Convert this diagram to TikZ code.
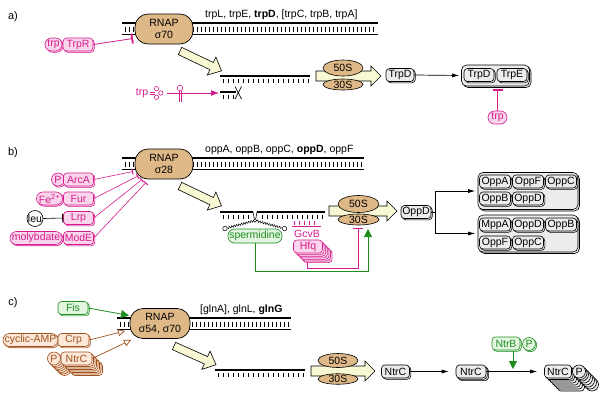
\documentclass[tikz,border=0pt]{standalone}
\usepackage{fontspec}
\setmainfont{Liberation Sans}
\usetikzlibrary{arrows.meta,decorations.pathmorphing,shapes.geometric,shapes.misc}
\definecolor{mag}{RGB}{214,28,140}
\definecolor{magfill}{RGB}{250,214,236}
\definecolor{grn}{RGB}{30,140,30}
\definecolor{grnfill}{RGB}{226,246,226}
\definecolor{brn}{RGB}{160,82,30}
\definecolor{brnfill}{RGB}{252,232,216}
\definecolor{rnapc}{RGB}{222,184,135}
\definecolor{yel}{RGB}{248,248,212}
\definecolor{boxgray}{RGB}{236,236,236}
\newcommand\fnt{\fontsize{10.5}{12}\selectfont}
\newcommand\dnads[3]{%
  \draw[line width=1.6pt] (#1,#3) -- (#2,#3) (#1,#3+11.5) -- (#2,#3+11.5);
  \pgfmathsetmacro\xa{#1+3}\pgfmathsetmacro\xb{#1+7}\pgfmathsetmacro\xe{#2-2}%
  \foreach \xx in {\xa,\xb,...,\xe} \draw[line width=0.6pt] (\xx,#3+3.5) -- (\xx,#3+9);}
\newcommand\mrnastr[3]{%
  \draw[line width=1.6pt] (#1,#3) -- (#2,#3);
  \pgfmathsetmacro\xa{#1+3}\pgfmathsetmacro\xb{#1+8}\pgfmathsetmacro\xe{#2-2}%
  \foreach \xx in {\xa,\xb,...,\xe} \draw[line width=0.6pt] (\xx,#3+3) -- (\xx,#3+7);}
\newcommand\yarrow[7]{%
  \begin{scope}[shift={(#1,#2)},rotate=#3]
    \draw[fill=yel,line width=0.6pt] (0,-#5) -- (#4-#7,-#5) -- (#4-#7,-#6) -- (#4,0) -- (#4-#7,#6) -- (#4-#7,#5) -- (0,#5) -- cycle;
  \end{scope}}
\begin{document}
\begin{tikzpicture}[x=1pt,y=-1pt,
  base/.style={font=\fnt,inner sep=1pt,minimum height=13pt,rounded corners=3.5pt,line width=0.6pt},
  kb/.style={base,draw=black,fill=boxgray,text=black},
  mb/.style={base,draw=mag,fill=magfill,text=mag},
  gb/.style={base,draw=grn,fill=grnfill,text=grn},
  bb/.style={base,draw=brn,fill=brnfill,text=brn},
  kshad/.style={preaction={draw=black,fill=boxgray,transform canvas={shift={(#1pt,-#1pt)}}}},
  mshad/.style={preaction={draw=mag,fill=magfill,transform canvas={shift={(#1pt,-#1pt)}}}},
  gshad/.style={preaction={draw=grn,fill=grnfill,transform canvas={shift={(#1pt,-#1pt)}}}},
  bshad/.style={preaction={draw=brn,fill=brnfill,transform canvas={shift={(#1pt,-#1pt)}}}},
  kbox/.style={kb,kshad=1.3},
  mbox/.style={mb,mshad=1.3},
  gbox/.style={gb,gshad=1.3},
  bbox/.style={bb,bshad=1.3},
  pillk/.style={rectangle,rounded corners=6.5pt,font=\fnt,inner sep=1pt,minimum height=13pt,line width=0.6pt},
  mpill/.style={pillk,draw=mag,fill=magfill,text=mag},
  gpill/.style={pillk,draw=grn,fill=grnfill,text=grn},
  bpill/.style={pillk,draw=brn,fill=brnfill,text=brn},
  circk/.style={circle,font=\fnt,inner sep=0pt,minimum size=13pt,line width=0.6pt},
  mcirc/.style={circk,draw=mag,fill=magfill,text=mag},
  gcirc/.style={circk,draw=grn,fill=grnfill,text=grn},
  bcirc/.style={circk,draw=brn,fill=brnfill,text=brn},
  kcirc/.style={circk,draw=black,fill=boxgray,text=black},
  rnap/.style={draw,fill=rnapc,rounded corners=13pt,minimum width=58pt,minimum height=30pt,align=center,font=\fnt,inner sep=0pt,line width=0.7pt},
  ribo/.style={ellipse,draw,fill=rnapc,minimum width=40pt,inner sep=0pt,font=\fnt,line width=0.6pt},
  cplx/.style={draw,fill=boxgray,rounded corners=5pt,line width=0.6pt,kshad=1.5},
  lbl/.style={font=\fnt,anchor=base west,inner sep=0pt},
  sec/.style={font=\fontsize{11}{13}\selectfont,inner sep=0pt},
  conn/.style={line width=0.7pt,-{Latex[length=7pt,width=4pt]}},
  minh/.style={draw=mag,line width=0.8pt,-{Bar[width=10pt,line width=1.8pt]}},
  mreg/.style={draw=mag,line width=0.6pt,-{Bar[width=6pt,line width=1pt]}},
  gact/.style={draw=grn,line width=0.8pt,-{Triangle[length=8pt,width=8pt]}},
  bact/.style={draw=brn,line width=0.7pt,-{Triangle[length=7pt,width=7pt,fill=white]}},
  zz/.style={decorate,decoration={zigzag,amplitude=1pt,segment length=2.5pt},line width=0.5pt},
]
\fill[white] (0,0) rectangle (606,400);
\useasboundingbox (0,0) rectangle (606,400);

% ================= a) =================
\node[sec] (la) at (13,17) {a)};
\dnads{122}{378}{23}
\node[rnap] (rnapA) at (164,29) {RNAP\\σ70};
\node[lbl] (genesA) at (205,17) {trpL, trpE, \textbf{trpD}, [trpC, trpB, trpA]};
\node[mpill,mshad=1.2,minimum width=17pt] (trpA) at (53.5,44.5) {trp};
\node[mbox,minimum width=30pt] (trpR) at (78,44.5) {TrpR};
\coordinate (trpRT) at (133,38.5);
\draw[minh] (trpR.east) -- (trpRT);

\yarrow{180}{51}{-25.5}{46}{4}{10}{11}
\mrnastr{220}{310}{76}
\yarrow{316}{76}{0}{65}{5}{10}{10}
\node[ribo,minimum height=11pt] (s30a) at (343,84.5) {30S};
\node[ribo,minimum height=16pt] (s50a) at (343,68) {50S};
\node[kbox,minimum width=28pt] (trpDa) at (400,75) {TrpD};
\node[cplx,minimum width=68pt,minimum height=21pt] (cxA) at (495.5,75.5) {};
\node[kbox,minimum width=30pt] (cxA1) at (479,75) {TrpD};
\node[kbox,minimum width=30pt] (cxA2) at (512,75) {TrpE};
\draw[conn,shorten >=2pt] (trpDa.east) -- (cxA.west);
\node[mpill,minimum width=19pt] (trpI) at (497.5,117.5) {trp};
\draw[minh,shorten >=2.5pt] (trpI.north) -- (trpI.north |- cxA.south);

% attenuation
\node[font=\fnt,text=mag,inner sep=0pt] (trpT) at (142,93) {trp};
\begin{scope}[draw=mag,line width=0.6pt]
  \draw (149.5,92) -- (154.5,92) (149.5,94) -- (154.5,94);
  \draw (156.5,88.7) circle (2.2) (156.5,97.3) circle (2.2) (160.8,93) circle (2.2);
  \draw (179,91) -- (179,102) (181,91) -- (181,102);
  \draw (180,88) circle (2.8);
\end{scope}
\coordinate (attL) at (167,93);
\coordinate (attR) at (219,93);
\draw[draw=mag,line width=0.8pt,-{Latex[length=8pt,width=6pt]}] (attL) -- (attR);
\mrnastr{220}{236}{92}
\draw[line width=0.7pt] (235,86.5) -- (241.5,99) (241.5,86.5) -- (235,99);

% ================= b) =================
\node[sec] (lb) at (13,153) {b)};
\dnads{122}{364}{158}
\node[rnap] (rnapB) at (164,164) {RNAP\\σ28};
\node[lbl] (genesB) at (205,152) {oppA, oppB, oppC, \textbf{oppD}, oppF};
\node[mcirc,mshad=1.2] (pB) at (58,179.5) {P};
\node[mbox,minimum width=30pt] (arcA) at (78.5,179.5) {ArcA};
\node[mpill,mshad=1.2,minimum width=26pt] (fe) at (49.5,198.5) {Fe\textsuperscript{2+}};
\node[mbox,minimum width=30pt] (fur) at (78.5,198.5) {Fur};
\node[circk,draw=black,fill=white,minimum size=16pt] (leu) at (35,218.5) {leu};
\node[mbox,minimum width=30pt] (lrp) at (78.5,218) {Lrp};
\node[mpill,mshad=1.2,minimum width=52pt] (moly) at (36,238) {molybdate};
\node[mbox,minimum width=30pt] (modE) at (78.5,238) {ModE};
\draw[line width=0.6pt,-{Bar[width=9pt,line width=1pt]}] (leu.east) -- (lrp.west);
\coordinate (tArc) at (133,171.5);
\coordinate (tFur) at (138,176);
\coordinate (tLrp) at (142,179.5);
\coordinate (tMod) at (146,182.5);
\draw[mreg] (arcA.east) -- (tArc);
\draw[mreg] (fur.east) -- (tFur);
\draw[mreg] (lrp.east) -- (tLrp);
\draw[mreg] (modE.east) -- (tMod);

\yarrow{180}{186}{-25.5}{46}{4}{10}{11}
% mRNA with spermidine kink
\draw[line width=1.6pt] (220,212) -- (253,212) (257,212) -- (325,212);
\foreach \xx in {223,228,...,248} \draw[line width=0.6pt] (\xx,215) -- (\xx,219);
\foreach \xx in {262,267,...,322} \draw[line width=0.6pt] (\xx,215) -- (\xx,219);
\draw[line width=0.6pt] (253,212) -- (254.3,219) (257,212) -- (255.7,219);
\node[circle,draw,fill=white,inner sep=0pt,minimum size=3.6pt,line width=0.5pt] (kink) at (255,220.5) {};
\node[circle,draw,fill=white,inner sep=0pt,minimum size=4.5pt,line width=0.5pt] (sL) at (225,228.5) {};
\node[circle,draw,fill=white,inner sep=0pt,minimum size=4.5pt,line width=0.5pt] (sR) at (284.5,228.5) {};
\draw[zz] (kink) -- (sL);
\draw[zz] (kink) -- (sR);
\node[gpill,minimum width=54pt,minimum height=14pt] (sperm) at (255,236) {spermidine};
% GcvB + Hfq
\foreach \xx in {294,299,...,318} \draw[mag,line width=0.6pt] (\xx,221) -- (\xx,225);
\draw[mag,line width=1.6pt] (292,226.5) -- (321,226.5);
\node[font=\fnt,text=mag,inner sep=0pt] (gcvB) at (307,233.5) {GcvB};
\node[mb,minimum width=29pt,mshad=9.6,mshad=8,mshad=6.4,mshad=4.8,mshad=3.2,mshad=1.6] (hfq) at (308,246.5) {Hfq};

\yarrow{329}{211}{0}{68}{5}{10}{10}
\node[ribo,minimum width=41pt,minimum height=11pt] (s30b) at (358.5,219.5) {30S};
\node[ribo,minimum width=41pt,minimum height=17pt] (s50b) at (358.5,204) {50S};
\coordinate (hfqB) at (307,263);
\coordinate (hfqT) at (358,227.5);
\draw[minh] (hfqB) -- ++(0,5) -| (hfqT);
\coordinate (grT) at (368,229);
\draw[gact] (sperm.south) -- ++(0,28) -| (grT);

\node[kbox,minimum width=30pt] (oppDb) at (416,212) {OppD};
\node[cplx,minimum width=100pt,minimum height=37pt] (cx1) at (528,191) {};
\node[kbox,minimum width=31pt] (c1a) at (495,181.5) {OppA};
\node[kbox,minimum width=31pt] (c1b) at (528,181.5) {OppF};
\node[kbox,minimum width=31pt] (c1c) at (561,181.5) {OppC};
\node[kbox,minimum width=31pt] (c1d) at (495,198.5) {OppB};
\node[kbox,minimum width=31pt] (c1e) at (528,198.5) {OppD};
\node[cplx,minimum width=100pt,minimum height=37pt] (cx2) at (528,233.5) {};
\node[kbox,minimum width=31pt] (c2a) at (495,224.5) {MppA};
\node[kbox,minimum width=31pt] (c2b) at (528,224.5) {OppD};
\node[kbox,minimum width=31pt] (c2c) at (561,224.5) {OppB};
\node[kbox,minimum width=31pt] (c2d) at (495,242.5) {OppF};
\node[kbox,minimum width=31pt] (c2e) at (528,242.5) {OppC};
\coordinate (br) at (435,212);
\draw[line width=0.7pt] (oppDb.east) -- (br);
\draw[conn,shorten >=2.5pt] (br) |- (cx1.west);
\draw[conn,shorten >=2.5pt] (br) |- (cx2.west);

% ================= c) =================
\node[sec] (lc) at (13,303) {c)};
\dnads{117}{291}{318}
\node[rnap,minimum width=60pt] (rnapC) at (160,323.5) {RNAP\\σ54, σ70};
\node[lbl] (genesC) at (200,312) {[glnA], glnL, \textbf{glnG}};
\node[gbox,minimum width=30pt] (fis) at (73,308) {Fis};
\coordinate (fisT) at (129,315.5);
\draw[gact] (fis.east) -- (fisT);
\node[bpill,bshad=1.2,minimum width=55pt] (camp) at (30.5,340) {cyclic-AMP};
\node[bbox,minimum width=31pt] (crp) at (73.5,340) {Crp};
\node[bcirc,bshad=10.5,bshad=9,bshad=7.5,bshad=6,bshad=4.5,bshad=3,bshad=1.5] (pL) at (54,358.5) {P};
\node[bb,minimum width=31pt,bshad=10.5,bshad=9,bshad=7.5,bshad=6,bshad=4.5,bshad=3,bshad=1.5] (ntrcL) at (76.5,358.5) {NtrC};
\coordinate (crpT) at (125,331);
\coordinate (ntrT) at (131,340);
\draw[bact] (crp.east) -- (crpT);
\draw[bact] (ntrcL.east) -- (ntrT);

\yarrow{174}{346}{-24}{46}{4}{10}{11}
\mrnastr{215}{305}{370}
\yarrow{311}{371}{0}{64}{5}{10}{10}
\node[ribo,minimum height=10pt] (s30c) at (338,379) {30S};
\node[ribo,minimum height=14pt] (s50c) at (338,360.5) {50S};
\node[kbox,minimum width=28pt] (ntr1) at (395.5,371.5) {NtrC};
\node[kb,minimum width=30pt,kshad=2.6,kshad=1.3] (ntr2) at (471,371.5) {NtrC};
\node[kb,minimum width=27pt,kshad=13,kshad=11,kshad=9,kshad=7,kshad=5,kshad=3,kshad=1.5] (ntr3) at (558,371.5) {NtrC};
\node[kcirc,kshad=13,kshad=11,kshad=9,kshad=7,kshad=5,kshad=3,kshad=1.5] (pR) at (579,371.5) {P};
\draw[conn,shorten >=7pt] (ntr1.east) -- (ntr2.west);
\draw[conn,shorten >=7pt] (ntr2.east) -- (ntr3.west);
\node[gbox,minimum width=28pt] (ntrb) at (506,343.5) {NtrB};
\node[gcirc,gshad=1.2] (pG) at (529,344) {P};
\coordinate (ntrbS) at (513,350.5);
\coordinate (ntrbT) at (513,369);
\draw[gact] (ntrbS) -- (ntrbT);
\end{tikzpicture}
\end{document}
